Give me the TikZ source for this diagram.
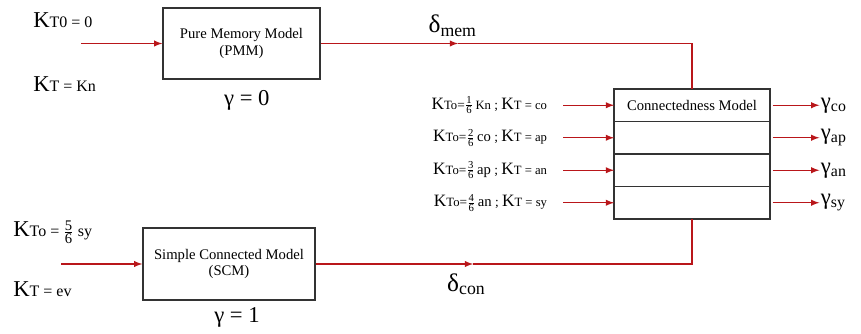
\documentclass[tikz,border=0pt]{standalone}
\usepackage{fontspec}
\setmainfont{Liberation Serif}
\usetikzlibrary{arrows,positioning}
\definecolor{wirered}{RGB}{185,22,26}
\newcommand{\kfrac}[3][8]{$\frac{\mbox{\fontsize{#1}{#1}\selectfont #2}}{\mbox{\fontsize{#1}{#1}\selectfont #3}}$}
\newcommand{\kbig}[1]{{\fontsize{17}{18}\selectfont K}{\fontsize{12}{14}\selectfont #1}}
\newcommand{\ksmall}[1]{{\fontsize{13}{14}\selectfont K}{\fontsize{9.5}{11}\selectfont #1}}
\tikzset{
    model/.style={
           rectangle,
           draw=black!80, line width=1.1pt,
           inner sep=2pt,
           text centered,
           align=center,
           font=\fontsize{11}{12.5}\selectfont,
           },
    cell/.style={model, minimum width=117pt, minimum height=24.375pt, outer sep=0pt},
    wire/.style={draw=wirered, line width=1.1pt},
    feed/.style={wire, ->, >=latex},
    klabel/.style={inner sep=0pt, anchor=west},
    glabel/.style={inner sep=1pt, font=\fontsize{17}{18}\selectfont},
}

\begin{document}
\begin{tikzpicture}[x=0.75pt,y=-0.75pt]
 \useasboundingbox (0,0) rectangle (861,334);
 % models on the left
 \node[model, minimum width=117.75pt, minimum height=53.25pt] (PMM) at (241.5,43.5)
 {Pure Memory Model\\(PMM)};
 \node[model, minimum width=129pt, minimum height=54pt] (SCM) at (229,264)
 {Simple Connected Model\\(SCM)};
 \node[glabel, below=7pt of PMM, xshift=4pt] (gPMM) {γ = 0};
 \node[glabel, below=4pt of SCM, xshift=6pt] (gSCM) {γ = 1};

 % connectedness model, one cell per row
 \node[cell] (CM1) at (692,105.25) {Connectedness Model};
 \node[cell, below=0pt of CM1] (CM2) {};
 \node[cell, below=0pt of CM2] (CM3) {};
 \node[cell, below=0pt of CM3] (CM4) {};

 % inputs
 \node[klabel] (kPMMa) at (33,20) {\kbig{T0 = 0}};
 \node[klabel] (kPMMb) at (33,84) {\kbig{T = Kn}};
 \node[klabel] (kSCMa) at (13,232) {\kbig{To = \kfrac[11]{5}{6} sy}};
 \node[klabel] (kSCMb) at (13,289) {\kbig{T = ev}};
 \coordinate[left=60.75pt of PMM.west] (inPMM);
 \coordinate[left=60.75pt of SCM.west] (inSCM);

 \coordinate[left=38pt of CM1.west] (in1);
 \coordinate[left=38pt of CM2.west] (in2);
 \coordinate[left=38pt of CM3.west] (in3);
 \coordinate[left=38pt of CM4.west] (in4);
 \node[inner sep=0pt, left=12pt of in1] (k1) {\ksmall{To}=\kfrac{1}{6}\,{\fontsize{9.5}{11}\selectfont Kn} ; \ksmall{T = co}};
 \node[inner sep=0pt, left=12pt of in2] (k2) {\ksmall{To}=\kfrac{2}{6}\,{\fontsize{11}{12}\selectfont co} ; \ksmall{T = ap}};
 \node[inner sep=0pt, left=12pt of in3] (k3) {\ksmall{To}=\kfrac{3}{6}\,{\fontsize{11}{12}\selectfont ap} ; \ksmall{T = an}};
 \node[inner sep=0pt, left=12pt of in4] (k4) {\ksmall{To}=\kfrac{4}{6}\,{\fontsize{11}{12}\selectfont an} ; \ksmall{T = sy}};

 % outputs
 \coordinate[right=2pt of CM1.east] (os1);
 \coordinate[right=2pt of CM2.east] (os2);
 \coordinate[right=2pt of CM3.east] (os3);
 \coordinate[right=2pt of CM4.east] (os4);
 \node[glabel, right=37pt of CM1.east, anchor=west] (g1) {γ\textsubscript{co}};
 \node[glabel, right=37pt of CM2.east, anchor=west] (g2) {γ\textsubscript{ap}};
 \node[glabel, right=37pt of CM3.east, anchor=west] (g3) {γ\textsubscript{an}};
 \node[glabel, right=37pt of CM4.east, anchor=west] (g4) {γ\textsubscript{sy}};

 % distances
 \coordinate (memmid) at (458,43.5);
 \coordinate (conmid) at (473,264);
 \node[glabel, inner sep=0pt, font=\fontsize{19}{20}\selectfont, above=5pt of memmid, xshift=-4pt] (dmem) {δ\textsubscript{mem}};
 \node[glabel, inner sep=0pt, font=\fontsize{19}{20}\selectfont, below=7pt of conmid, xshift=-5pt] (dcon) {δ\textsubscript{con}};

 \path
  (inPMM) edge[feed] (PMM)
  (inSCM) edge[feed] (SCM)
  (in1) edge[feed] (CM1)
  (in2) edge[feed] (CM2)
  (in3) edge[feed] (CM3)
  (in4) edge[feed] (CM4)
  (os1) edge[feed] (g1)
  (os2) edge[feed] (g2)
  (os3) edge[feed] (g3)
  (os4) edge[feed] (g4)
  (PMM) edge[feed] (memmid)
  (SCM) edge[feed] (conmid)
 ;
 \draw[wire] (memmid) -| (CM1.north);
 \draw[wire] (conmid) -| (CM4.south);
\end{tikzpicture}
\end{document}
